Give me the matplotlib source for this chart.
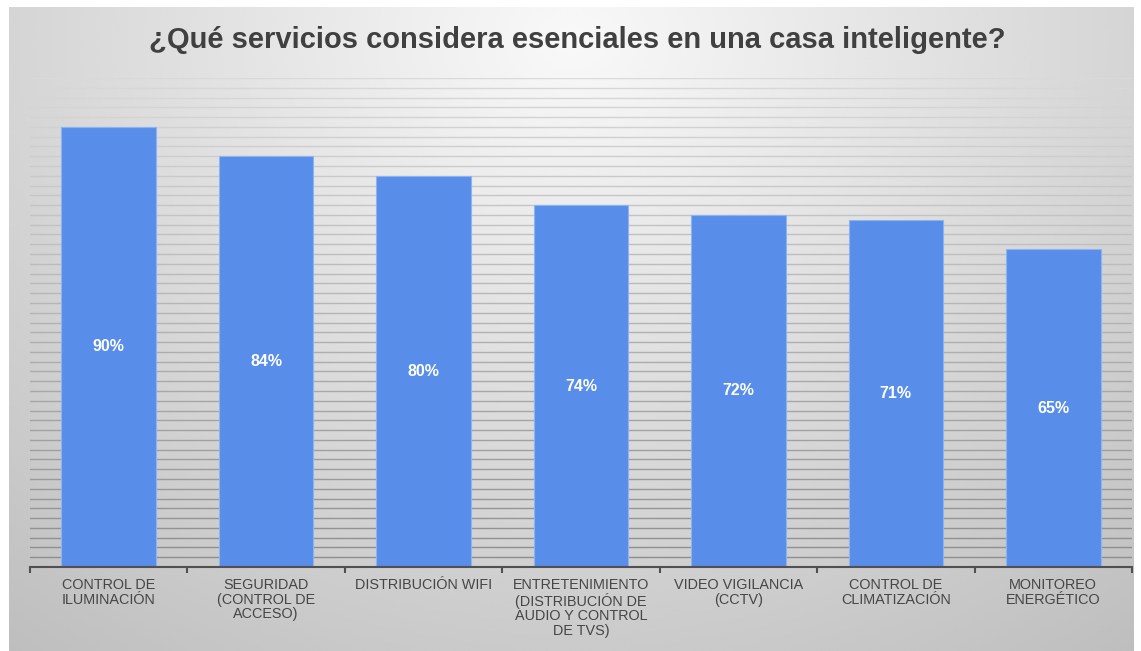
import numpy as np
from matplotlib import pyplot as plt

categorias = ["CONTROL DE\nILUMINACIÓN",
              "SEGURIDAD\n(CONTROL DE\nACCESO)",
              "DISTRIBUCIÓN WIFI",
              "ENTRETENIMIENTO\n(DISTRIBUCIÓN DE\nAUDIO Y CONTROL\nDE TVS)",
              "VIDEO VIGILANCIA\n(CCTV)",
              "CONTROL DE\nCLIMATIZACIÓN",
              "MONITOREO\nENERGÉTICO"]
porcentajes = [90, 84, 80, 74, 72, 71, 65]
titulo = "¿Qué servicios considera esenciales en una casa inteligente?"

plt.rcParams['font.family'] = ['Liberation Sans', 'DejaVu Sans']

W, H = 1141, 651
fig = plt.figure(figsize=(W / 100, H / 100), dpi=100)
fig.patch.set_facecolor('white')

# fondo con degradado radial gris
x0, x1, y0, y1 = 9, 1134, 7, 651
bg = fig.add_axes([x0 / W, 1 - y1 / H, (x1 - x0) / W, (y1 - y0) / H])
gx, gy = np.meshgrid(np.linspace(0, 1, 400), np.linspace(0, 1, 240))
r = np.sqrt(((gx - 0.5) / 0.75) ** 2 + ((gy - 0.05) / 1.1) ** 2)
grad = np.clip(0.975 - 0.21 * r, 0, 1)
bg.imshow(grad, cmap='gray', vmin=0, vmax=1, aspect='auto',
          extent=(0, 1, 1, 0), interpolation='bicubic')
bg.axis('off')

# zona del gráfico
ax_l, ax_r, ax_t, ax_b = 30, 1132, 78, 567
ax = fig.add_axes([ax_l / W, 1 - ax_b / H, (ax_r - ax_l) / W, (ax_b - ax_t) / H])
ax.patch.set_alpha(0)
n = len(categorias)
ax.set_xlim(-0.5, n - 0.5)
ax.set_ylim(0, 100)

# líneas de cuadrícula, más claras hacia arriba
for v in range(2, 101, 2):
    t = v / 100
    c = 0.55 + 0.30 * t
    ax.axhline(v, color=(c, c, c), lw=1.0, zorder=0)

x = np.arange(n)
barras = ax.bar(x, porcentajes, width=0.6, color='#588DEA',
                edgecolor='#8DB4F2', linewidth=0.8, zorder=2)
for xi, v in zip(x, porcentajes):
    ax.text(xi, v / 2, f"{v}%", ha='center', va='center', color='white',
            fontsize=11.5, fontweight='bold', zorder=3)

for s in ['top', 'right', 'left']:
    ax.spines[s].set_visible(False)
ax.spines['bottom'].set_color('#505050')
ax.spines['bottom'].set_linewidth(1.5)
ax.set_yticks([])
ax.set_xticks(np.arange(-0.5, n, 1.0))
ax.set_xticklabels([])
ax.tick_params(axis='x', which='major', length=4, width=1.5, color='#505050')
ax.set_xticks(x, minor=True)
ax.set_xticklabels(categorias, minor=True, fontsize=10.4, color='#464646',
                   linespacing=1.05, va='top')
ax.tick_params(axis='x', which='minor', length=0, pad=8)

fig.text(577 / W, 1 - 40 / H, titulo, ha='center', va='center', fontsize=21,
         fontweight='bold', color='#404040')

fig.savefig('out.png', dpi=100)
